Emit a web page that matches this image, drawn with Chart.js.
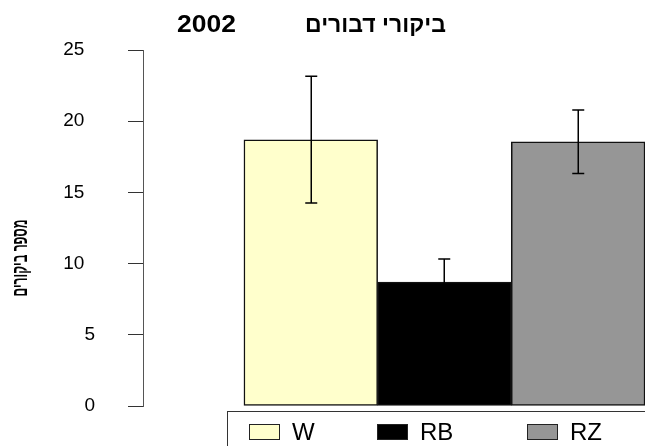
<!DOCTYPE html>
<html>
<head>
<meta charset="utf-8">
<script src="https://cdn.jsdelivr.net/npm/chart.js@4/dist/chart.umd.min.js"></script>
<style>
  html, body { margin: 0; padding: 0; background: #fff; overflow: hidden; }
  #wrap { width: 645px; height: 446px; position: relative; }
  canvas { display: block; }
</style>
</head>
<body>
<div id="wrap"><canvas id="c" width="645" height="446"></canvas></div>
<script>
// Bee visits per treatment, 2002: means with their error margins
const categories = ['W', 'RB', 'RZ'];
const meanVisits = [18.7, 8.7, 18.55];
const errorVisits = [4.45, 1.62, 2.23];
const yTicks = [0, 5, 10, 15, 20, 25];

const yearLabel = '2002';
const chartTitle = 'ביקורי דבורים';
const yAxisTitle = 'מספר ביקורים';

// Styling
const FONT = '"Liberation Sans", Arial, "DejaVu Sans", sans-serif';
const barFills = ['#FFFFCC', '#000000', '#969696'];
const legendSlots = [249, 377, 527];

const errorBars = {
  id: 'errorBars',
  afterDatasetsDraw(chart) {
    const { ctx, scales: { x, y } } = chart;
    ctx.save();
    ctx.strokeStyle = '#000';
    ctx.lineWidth = 1.5;
    meanVisits.forEach((m, i) => {
      const px = Math.round(x.getPixelForValue(i)) + 0.25;
      const top = y.getPixelForValue(m + errorVisits[i]);
      const bot = y.getPixelForValue(m - errorVisits[i]);
      ctx.beginPath();
      ctx.moveTo(px, top); ctx.lineTo(px, bot);
      ctx.moveTo(px - 6, top); ctx.lineTo(px + 6, top);
      ctx.moveTo(px - 6, bot); ctx.lineTo(px + 6, bot);
      ctx.stroke();
    });
    ctx.restore();
  }
};

const annotations = {
  id: 'annotations',
  afterDraw(chart) {
    const { ctx } = chart;
    ctx.save();
    ctx.fillStyle = '#000';

    // Titles
    ctx.font = 'bold 23px ' + FONT;
    ctx.textBaseline = 'alphabetic';
    ctx.textAlign = 'center';
    ctx.save();
    ctx.translate(206.5, 31.5);
    ctx.scale(1.15, 1);
    ctx.fillText(yearLabel, 0, 0);
    ctx.restore();
    ctx.direction = 'rtl';
    ctx.fillText(chartTitle, 375.5, 31.5);

    // Vertical axis caption, condensed
    ctx.save();
    ctx.translate(20, 258);
    ctx.rotate(-Math.PI / 2);
    ctx.font = 'bold 21px ' + FONT;
    const w = ctx.measureText(yAxisTitle).width;
    ctx.scale(77 / w, 1);
    ctx.textBaseline = 'middle';
    ctx.textAlign = 'center';
    ctx.direction = 'rtl';
    ctx.fillText(yAxisTitle, 0, 1);
    ctx.restore();

    // Legend frame and entries
    ctx.direction = 'ltr';
    ctx.strokeStyle = '#333';
    ctx.lineWidth = 1;
    ctx.strokeRect(227.5, 411.5, 500, 100);
    ctx.font = '24px ' + FONT;
    ctx.textAlign = 'left';
    ctx.textBaseline = 'middle';
    chart.data.datasets.forEach((ds, i) => {
      const lx = legendSlots[i];
      ctx.fillStyle = ds.backgroundColor;
      ctx.fillRect(lx, 424, 30, 15);
      ctx.strokeStyle = '#222';
      ctx.strokeRect(lx + 0.5, 424.5, 30, 15);
      ctx.fillStyle = '#000';
      ctx.fillText(ds.label, lx + 43, 433);
    });
    ctx.restore();
  }
};

new Chart(document.getElementById('c'), {
  type: 'bar',
  data: {
    datasets: categories.map((name, i) => ({
      label: name,
      data: [{ x: i, y: meanVisits[i] }],
      backgroundColor: barFills[i],
      borderColor: '#111',
      borderWidth: 1.5,
      borderSkipped: false,
      grouped: false,
      barPercentage: 1,
      categoryPercentage: 1
    }))
  },
  options: {
    responsive: false,
    animation: false,
    devicePixelRatio: 1,
    layout: { padding: { left: 58, right: 0, top: 50, bottom: 40 } },
    plugins: {
      legend: { display: false },
      title: { display: false },
      tooltip: { enabled: false }
    },
    scales: {
      x: {
        type: 'linear',
        display: false,
        offset: false,
        min: -1.255,
        max: 2.5,
        afterBuildTicks: s => { s.ticks = categories.map((_, i) => ({ value: i })); }
      },
      y: {
        min: 0,
        max: 25,
        afterBuildTicks: s => { s.ticks = yTicks.map(v => ({ value: v })); },
        afterFit: s => {
          s.width = 85;
          s.paddingTop = 0;
          s.paddingBottom = 0;
        },
        ticks: {
          font: { family: FONT, size: 19 },
          color: '#000',
          padding: 33,
          callback: v => (String(v).length > 1 ? v + '\u2007' : String(v))
        },
        grid: { drawOnChartArea: false, drawTicks: true, tickLength: 15, color: '#333', tickWidth: 1 },
        border: { color: '#555', width: 1 }
      }
    }
  },
  plugins: [errorBars, annotations]
});
</script>
</body>
</html>
